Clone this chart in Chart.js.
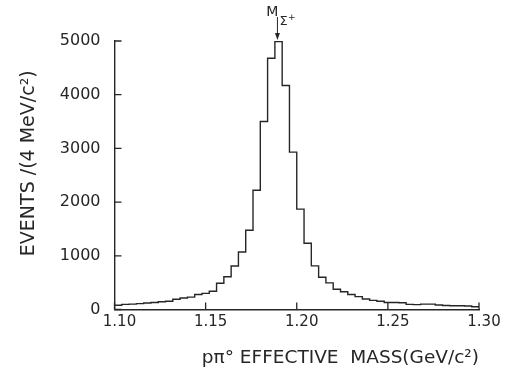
<!DOCTYPE html>
<html>
<head>
<meta charset="utf-8">
<script src="https://cdn.jsdelivr.net/npm/chart.js@4.4.1/dist/chart.umd.min.js"></script>
<style>
  html, body { margin: 0; padding: 0; background: #fff; }
  #wrap { width: 508px; height: 374px; }
</style>
</head>
<body>
<div id="wrap"><canvas id="c" width="508" height="374"></canvas></div>
<script>
// Bin edges of the p pi0 effective mass histogram (GeV/c^2), 4 MeV bins
const binEdges = [
  1.100, 1.104, 1.108, 1.112, 1.116, 1.120, 1.124, 1.128, 1.132, 1.136,
  1.140, 1.144, 1.148, 1.152, 1.156, 1.160, 1.164, 1.168, 1.172, 1.176,
  1.180, 1.184, 1.188, 1.192, 1.196, 1.200, 1.204, 1.208, 1.212, 1.216,
  1.220, 1.224, 1.228, 1.232, 1.236, 1.240, 1.244, 1.248, 1.252, 1.256,
  1.260, 1.264, 1.268, 1.272, 1.276, 1.280, 1.284, 1.288, 1.292, 1.296,
  1.300
];
// Events per 4 MeV/c^2 bin
const events = [
  80, 95, 100, 110, 120, 130, 145, 155, 190, 215,
  230, 280, 300, 340, 490, 610, 811, 1070, 1475, 2220,
  3500, 4680, 4990, 4170, 2930, 1870, 1235, 812, 600, 495,
  377, 330, 280, 240, 195, 170, 155, 130, 130, 125,
  95, 90, 100, 100, 85, 75, 70, 70, 65, 50
];
const xTickValues = [1.10, 1.15, 1.20, 1.25, 1.30];
const yTickValues = [0, 1000, 2000, 3000, 4000, 5000];
const sigmaPlusMass = 1.1894;
const xTitle = 'p\u03C0\u00B0 EFFECTIVE  MASS(GeV/c\u00B2)';
const yTitle = 'EVENTS /(4 MeV/c\u00B2)';

const points = binEdges.map((e, i) => ({ x: e, y: events[Math.min(i, events.length - 1)] }));

const ink = '#262626';
const fontFam = '"DejaVu Sans", sans-serif';

const decor = {
  id: 'decor',
  afterDraw(chart) {
    const ctx = chart.ctx;
    const xs = chart.scales.x, ys = chart.scales.y;
    const a = chart.chartArea;
    ctx.save();
    ctx.strokeStyle = ink;
    ctx.lineWidth = 1.3;
    ctx.beginPath();
    yTickValues.forEach(v => {
      const py = ys.getPixelForValue(v);
      ctx.moveTo(a.left, py); ctx.lineTo(a.left + 7, py);
    });
    xTickValues.forEach(v => {
      const px = xs.getPixelForValue(v);
      ctx.moveTo(px, a.bottom); ctx.lineTo(px, a.bottom - 7);
    });
    ctx.stroke();

    // Y axis title (drawn rotated, shifted slightly above the plot centre as in the original)
    ctx.save();
    ctx.fillStyle = ink;
    ctx.font = '19px ' + fontFam;
    ctx.textAlign = 'center';
    ctx.textBaseline = 'middle';
    ctx.translate(a.left - 85, (a.top + a.bottom) / 2 - 12);
    ctx.rotate(-Math.PI / 2);
    ctx.fillText(yTitle, 0, 0);
    ctx.restore();

    // M_Sigma+ marker arrow
    const px = xs.getPixelForValue(sigmaPlusMass);
    const top = ys.getPixelForValue(5000);
    ctx.beginPath();
    ctx.lineWidth = 1;
    ctx.moveTo(px, top - 24); ctx.lineTo(px, top - 6);
    ctx.stroke();
    ctx.beginPath();
    ctx.fillStyle = ink;
    ctx.moveTo(px - 2.5, top - 8); ctx.lineTo(px + 2.5, top - 8); ctx.lineTo(px, top - 1);
    ctx.closePath(); ctx.fill();
    ctx.textBaseline = 'middle';
    ctx.font = '14px ' + fontFam;
    ctx.textAlign = 'right';
    ctx.fillText('M', px + 1, top - 29);
    ctx.textAlign = 'left';
    ctx.font = '13px ' + fontFam;
    ctx.fillText('\u03A3', px + 2, top - 19);
    ctx.font = '9px ' + fontFam;
    ctx.fillText('+', px + 10.5, top - 23);
    ctx.restore();
  }
};

new Chart(document.getElementById('c'), {
  type: 'line',
  data: {
    datasets: [{
      data: points,
      stepped: 'before',
      borderColor: ink,
      borderWidth: 1.4,
      pointRadius: 0,
      fill: false,
      tension: 0
    }]
  },
  options: {
    responsive: false,
    animation: false,
    events: [],
    layout: { padding: { top: 41, right: 29, bottom: 0, left: 0 } },
    plugins: { legend: { display: false }, tooltip: { enabled: false } },
    scales: {
      x: {
        type: 'linear', min: 1.10, max: 1.30,
        afterFit: s => { s.height = 64.5; },
        afterBuildTicks: s => { s.ticks = xTickValues.map(v => ({ value: v })); },
        ticks: {
          callback: v => Number(v).toFixed(2),
          font: { family: fontFam, size: 15 },
          color: ink, padding: 4, labelOffset: 5, maxRotation: 0, autoSkip: false
        },
        grid: { drawOnChartArea: false, drawTicks: false },
        border: { display: true, color: ink, width: 1.4 },
        title: {
          display: true, text: xTitle, align: 'end', color: ink,
          font: { family: fontFam, size: 18.5 }, padding: { top: 10, bottom: 5 }
        }
      },
      y: {
        min: 0, max: 5000,
        afterFit: s => { s.width = 114.5; },
        afterBuildTicks: s => { s.ticks = yTickValues.map(v => ({ value: v })); },
        ticks: {
          callback: v => String(v),
          font: { family: fontFam, size: 16 }, color: ink, padding: 14
        },
        grid: { drawOnChartArea: false, drawTicks: false },
        border: { display: true, color: ink, width: 1.4 },
        title: { display: false }
      }
    }
  },
  plugins: [decor]
});
</script>
</body>
</html>
